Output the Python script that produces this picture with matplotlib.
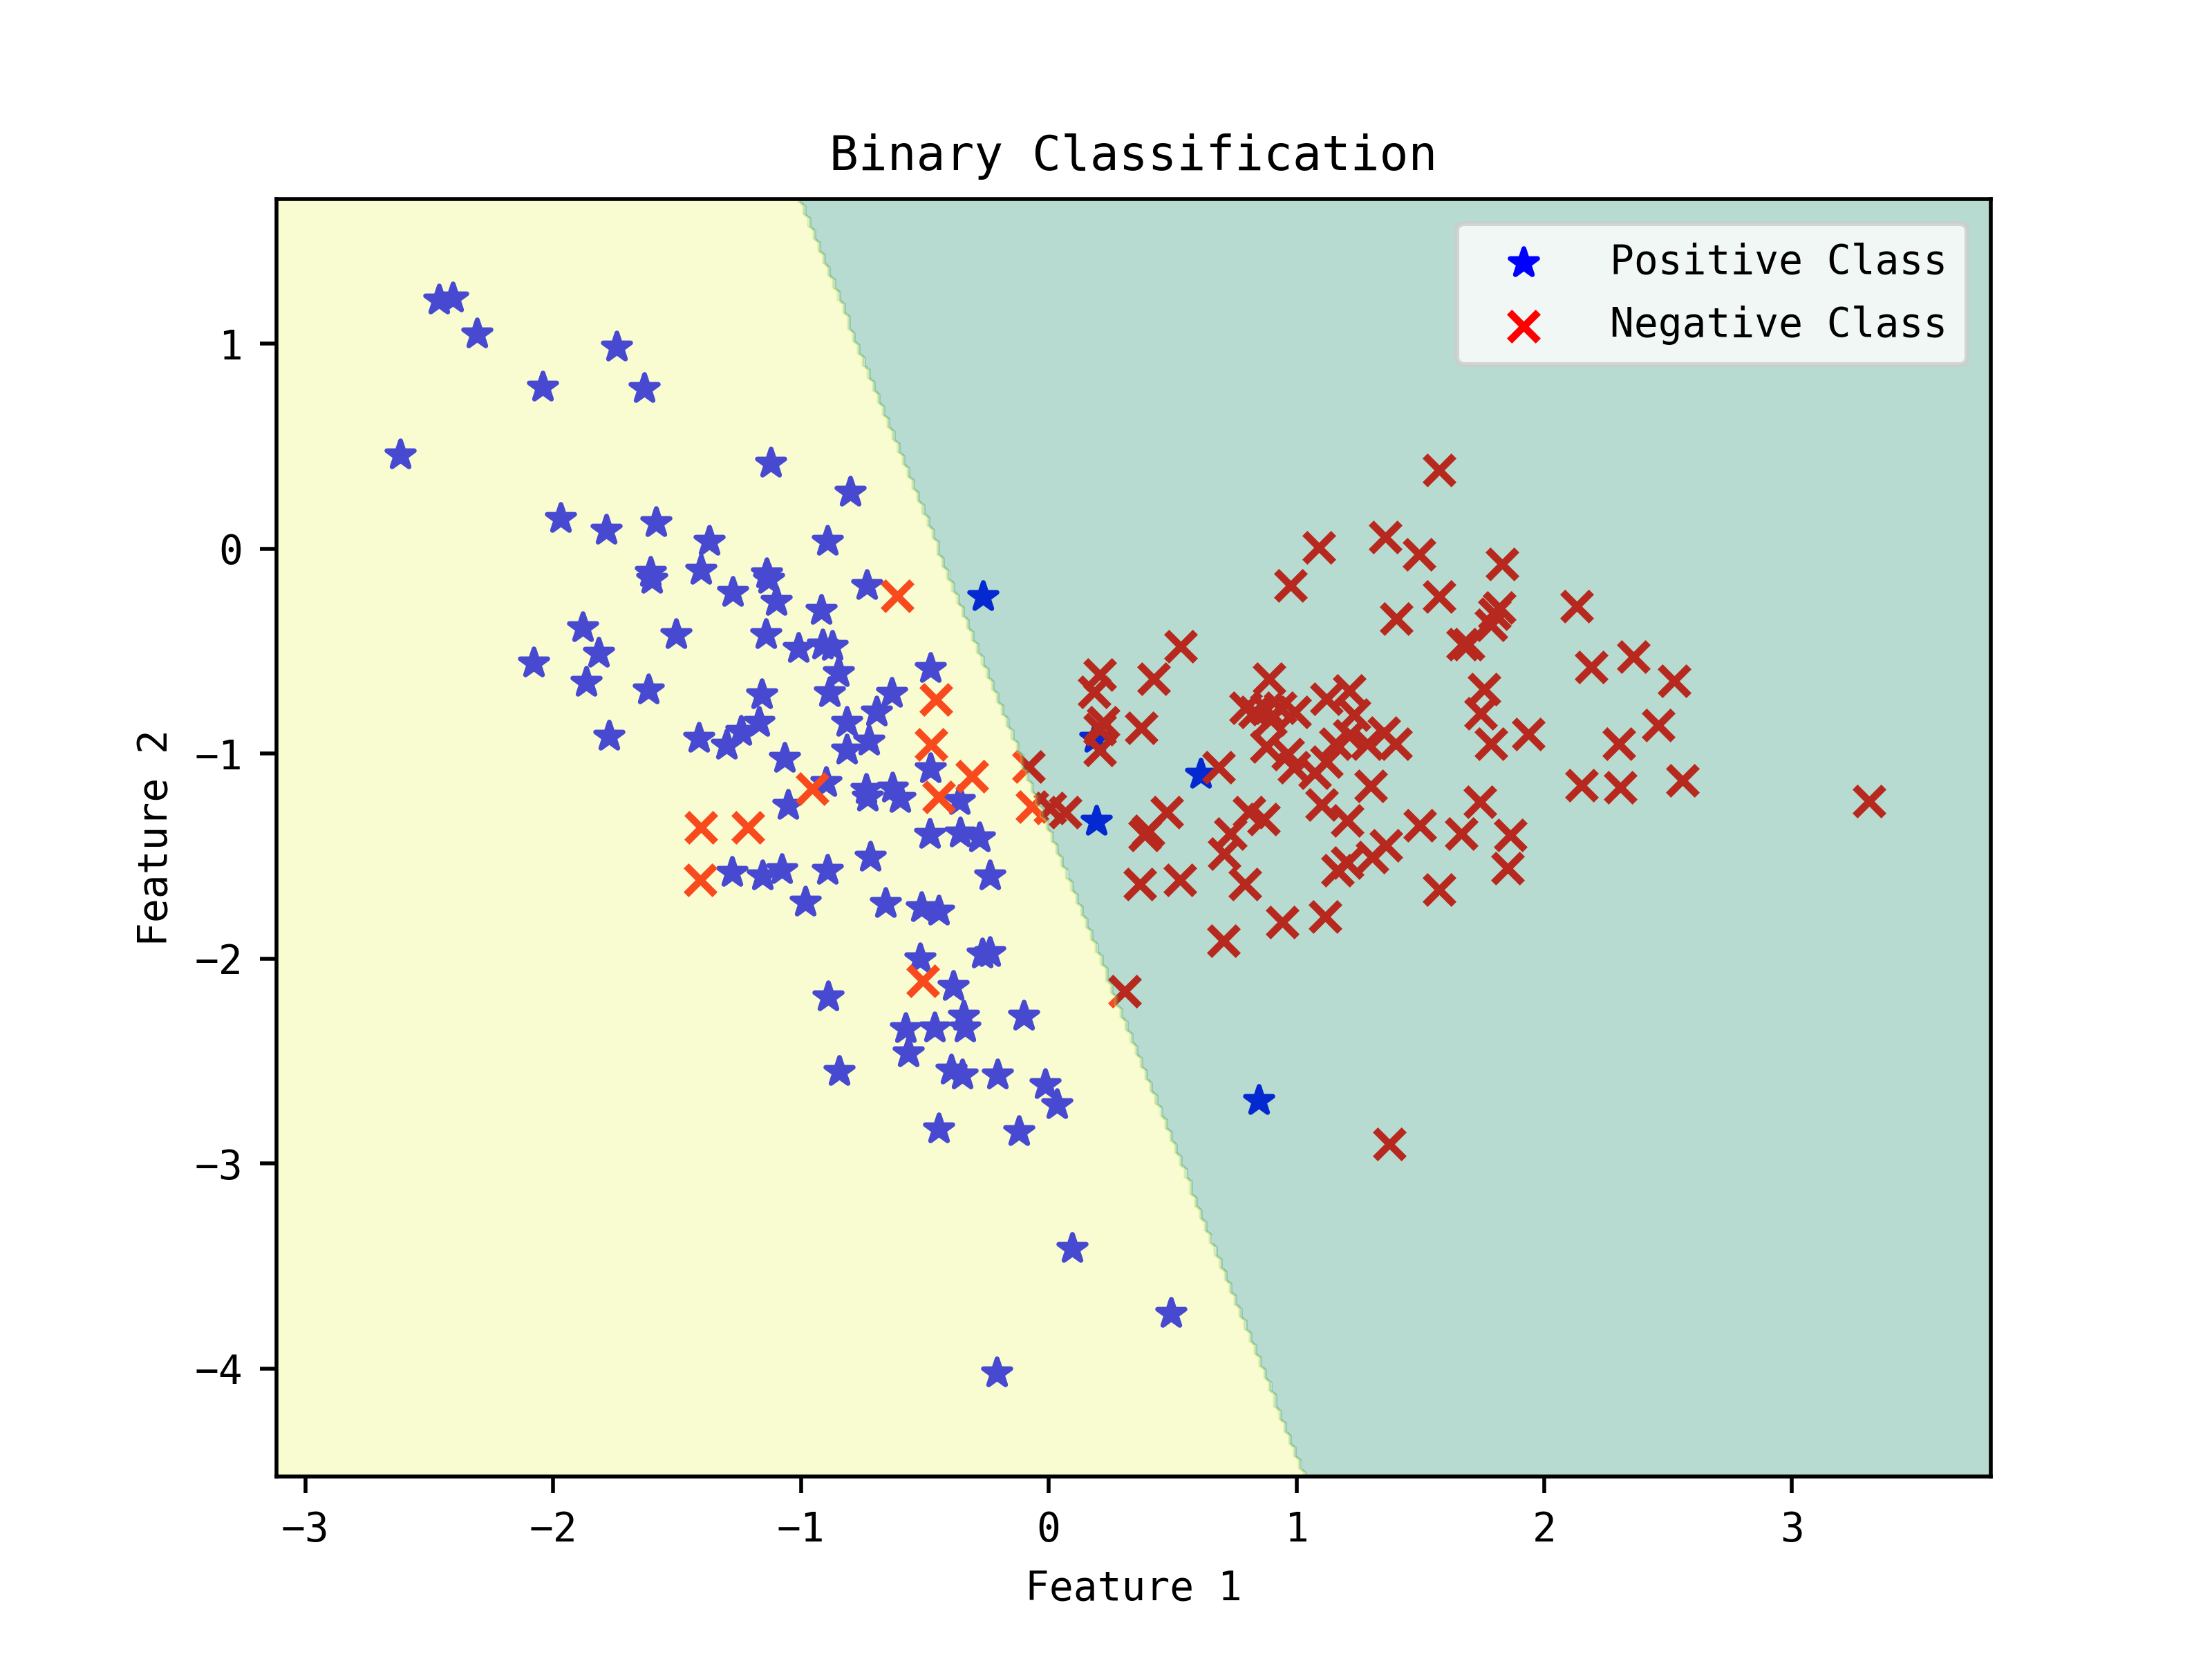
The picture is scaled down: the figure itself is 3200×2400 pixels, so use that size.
import numpy as np
import matplotlib
matplotlib.use('Agg')
import matplotlib.pyplot as plt

# positive class (stars)
pos_x = [-2.461, -2.404, -2.308, -1.744, -2.043, -1.632, -2.617, -1.122, -0.800, -1.969,
         -1.785, -1.585, -1.370, -0.894, -1.608, -1.600, -1.403, -1.137, -1.129, -1.274,
         -1.099, -0.919, -0.734, -1.879, -1.816, -1.866, -1.503, -1.141, -1.010, -0.911,
         -0.873, -0.848, -0.883, -0.476, -0.633, -1.157, -0.695, -1.614, -1.774, -1.411,
         -1.299, -1.241, -1.170, -0.814, -0.724, -0.815, -1.066, -0.476, -0.898, -1.051,
         -0.736, -0.730, -0.630, -0.599, -0.359, -0.481, -0.357, -0.280, -2.078, -1.278,
         -1.154, -1.076, -0.894, -0.721, -0.983, -0.658, -0.512, -0.444, -0.238, -0.269,
         -0.238, -0.518, -0.384, -0.890, -0.101, -0.577, -0.459, -0.344, -0.338, -0.566,
         -0.845, -0.394, -0.350, -0.207, -0.013, 0.032, -0.444, -0.120, -0.208, 0.094,
         0.493, -0.266, 0.186, 0.193, 0.614, 0.848]
pos_y = [1.212, 1.222, 1.047, 0.985, 0.789, 0.783, 0.457, 0.418, 0.275, 0.148,
         0.092, 0.128, 0.035, 0.035, -0.115, -0.150, -0.105, -0.122, -0.150, -0.212,
         -0.257, -0.302, -0.178, -0.386, -0.510, -0.651, -0.420, -0.420, -0.488, -0.469,
         -0.476, -0.606, -0.701, -0.583, -0.707, -0.712, -0.797, -0.690, -0.915, -0.926,
         -0.960, -0.892, -0.847, -0.847, -0.937, -0.982, -1.021, -1.072, -1.140, -1.252,
         -1.173, -1.213, -1.168, -1.218, -1.230, -1.393, -1.387, -1.410, -0.557, -1.578,
         -1.595, -1.567, -1.570, -1.505, -1.724, -1.730, -1.752, -1.769, -1.595, -1.977,
         -1.972, -2.000, -2.135, -2.185, -2.281, -2.343, -2.337, -2.281, -2.337, -2.461,
         -2.551, -2.545, -2.567, -2.567, -2.614, -2.711, -2.832, -2.843, -4.020, -3.414,
         -3.731, -0.235, -0.925, -1.330, -1.099, -2.691]

# negative class (crosses)
neg_x = [-0.612, -0.454, -0.474, -0.309, -0.444, -0.954, -1.403, -1.213, -1.405, -0.508,
         -0.080, -0.068, 0.005, 0.068, 0.307, 0.534, 0.207, 0.185, 0.424, 0.219,
         0.205, 0.205, 0.373, 0.476, 0.401, 0.387, 0.686, 0.367, 0.530, 0.705,
         0.943, 1.116, 0.792, 0.733, 0.709, 0.810, 0.868, 0.891, 0.794, 0.831,
         0.878, 0.934, 0.994, 0.896, 0.878, 0.966, 0.990, 1.120, 1.214, 1.232,
         1.214, 1.158, 1.120, 1.074, 1.102, 1.204, 1.167, 1.204, 0.976, 1.403,
         1.576, 1.800, 1.786, 1.819, 1.693, 1.670, 2.132, 2.191, 2.361, 2.525,
         1.758, 1.744, 1.786, 1.937, 2.300, 2.459, 2.151, 2.307, 2.557, 1.741,
         1.497, 1.665, 1.864, 1.853, 1.361, 1.305, 1.576, 1.301, 1.399, 1.352,
         1.287, 1.575, 1.090, 1.358, 1.495, 1.831, 3.311, 1.376]
neg_y = [-0.229, -0.735, -0.956, -1.112, -1.213, -1.170, -1.361, -1.359, -1.615, -2.110,
         -1.064, -1.260, -1.265, -1.287, -2.160, -0.476, -0.615, -0.699, -0.635, -0.848,
         -0.880, -0.983, -0.873, -1.286, -1.377, -1.396, -1.067, -1.635, -1.616, -1.913,
         -1.822, -1.796, -1.635, -1.390, -1.487, -1.287, -1.319, -0.635, -0.777, -0.796,
         -0.783, -0.777, -0.796, -0.835, -0.964, -1.003, -1.067, -0.732, -0.693, -0.809,
         -0.912, -0.951, -1.041, -1.093, -1.248, -1.325, -1.570, -1.532, -0.180, -0.342,
         -0.235, -0.319, -0.370, -0.286, -0.467, -0.467, -0.280, -0.577, -0.528, -0.644,
         -0.686, -0.803, -0.951, -0.903, -0.951, -0.861, -1.155, -1.165, -1.132, -1.235,
         -1.351, -1.390, -1.396, -1.558, -1.448, -1.506, -1.665, -1.157, -0.951, -0.899,
         -0.951, 0.385, 0.006, 0.055, -0.028, -0.075, -1.232, -2.905]

# linear classifier: positive where coef . x + intercept > 0
coef = [-1.0, -0.327]
intercept = -0.4452

# grid extent (data range +- 0.5)
x_min, x_max = -3.116, 3.802
y_min, y_max = -4.527, 1.706
h = 0.02

plt.rcParams['font.family'] = ['DejaVu Sans Mono']

fig = plt.figure(figsize=(6.4, 4.8), dpi=500)

plt.scatter(pos_x, pos_y, c='blue', marker='*', s=36, label='Positive Class')
plt.scatter(neg_x, neg_y, c='red', marker='x', s=36, label='Negative Class')

# decision regions drawn on top, semi transparent
xx, yy = np.meshgrid(np.arange(x_min, x_max + h, h), np.arange(y_min, y_max + h, h))
Z = (coef[0] * xx + coef[1] * yy + intercept > 0).astype(float)
plt.contourf(xx, yy, Z, alpha=0.3, cmap='summer')

plt.xlim(x_min, x_max)
plt.ylim(y_min, y_max)

plt.title('Binary Classification', fontsize=10)
plt.xlabel('Feature 1', fontsize=8.33)
plt.ylabel('Feature 2', fontsize=8.33)
plt.xticks(fontsize=8.33)
plt.yticks(fontsize=8.33)

plt.legend(loc='upper right', fontsize=8.33, handlelength=2.4, handletextpad=0.96,
           borderpad=0.48, borderaxespad=0.6, labelspacing=0.6)

plt.savefig('out.png', dpi=500)
